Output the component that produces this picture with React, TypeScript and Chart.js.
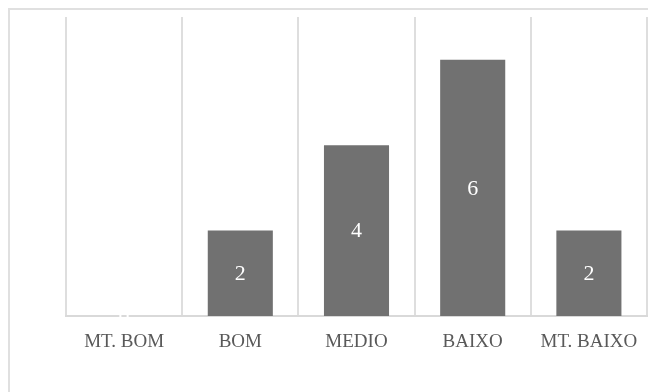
import React, { useEffect, useRef } from "react";
import { Chart, registerables } from "chart.js";

Chart.register(...registerables);

const categories = ["MT. BOM", "BOM", "MEDIO", "BAIXO", "MT. BAIXO"];
const values = [0, 2, 4, 6, 2];

const FONT = "'Liberation Serif', serif";

const dataLabelPlugin = {
  id: "centerLabels",
  afterDatasetsDraw(chart: any) {
    const ctx = chart.ctx;
    const meta = chart.getDatasetMeta(0);
    ctx.save();
    ctx.fillStyle = "#ffffff";
    ctx.font = `22px ${FONT}`;
    ctx.textAlign = "center";
    ctx.textBaseline = "middle";
    meta.data.forEach((bar: any, i: number) => {
      const y = (bar.y + bar.base) / 2 + 1;
      ctx.fillText(String(values[i]), bar.x, y);
    });
    ctx.restore();
  },
};

export default function App() {
  const ref = useRef<HTMLCanvasElement>(null);
  useEffect(() => {
    if (!ref.current) return;
    const chart = new Chart(ref.current, {
      type: "bar",
      data: {
        labels: categories,
        datasets: [
          {
            data: values,
            backgroundColor: "#717171",
            borderWidth: 0,
            categoryPercentage: 1,
            barPercentage: 0.56,
          },
        ],
      },
      options: {
        animation: false,
        responsive: true,
        maintainAspectRatio: false,
        layout: { padding: { left: 56, right: 1, top: 7, bottom: 0 } },
        plugins: { legend: { display: false }, tooltip: { enabled: false } },
        scales: {
          x: {
            grid: {
              display: true,
              color: "#dedede",
              lineWidth: 2,
              drawTicks: true,
              tickLength: 15,
              tickColor: "rgba(0,0,0,0)",
              offset: true,
            },
            border: { display: true, color: "#d9d9d9", width: 2 },
            ticks: { color: "#595959", font: { family: FONT, size: 19 }, padding: 0, maxRotation: 0 },
            afterFit: (scale: any) => {
              scale.height = 76;
            },
          },
          y: {
            display: false,
            min: 0,
            max: 7,
          },
        },
      },
      plugins: [dataLabelPlugin],
    });
    return () => chart.destroy();
  }, []);
  return (
    <div
      style={{
        position: "fixed",
        left: 0,
        top: 0,
        width: 648,
        height: 392,
        overflow: "hidden",
        background: "#fff",
      }}
    >
      <div
        style={{
          position: "absolute",
          left: 8,
          top: 8,
          width: 640,
          height: 384,
          boxSizing: "border-box",
          borderTop: "2px solid #e0e0e0",
          borderLeft: "2px solid #e0e0e0",
        }}
      >
        <div style={{ position: "relative", width: 638, height: 382 }}>
          <canvas ref={ref} />
        </div>
      </div>
    </div>
  );
}
